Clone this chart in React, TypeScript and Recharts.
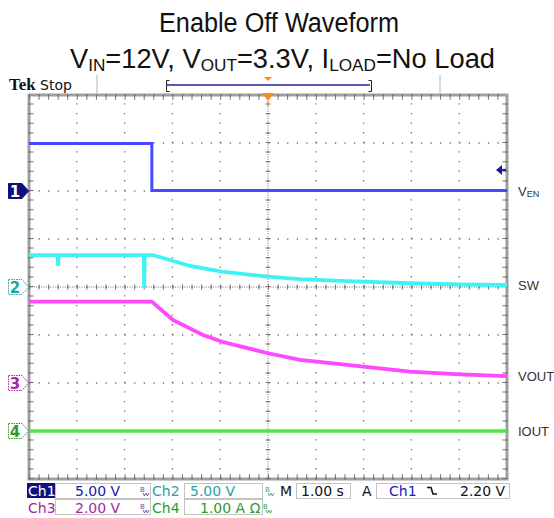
import React from 'react';
import {
  LineChart,
  Line,
  XAxis,
  YAxis,
  ReferenceLine,
  ReferenceDot,
  ReferenceArea,
} from 'recharts';

// time in s relative to trigger (1.00 s/div, 10 div)
const EN_T = [-5, -2.43, -2.43, 5];
const EN_V = [4.95, 4.95, 0.05, 0.05];

const SW_T = [-5, -4.4, -4.39, -4.38, -2.6, -2.59, -2.58, -2.41, -2.05, -1.63, -0.96, 0, 0.67, 1.51, 2.97, 4.02, 5];
const SW_V = [3.33, 3.33, 2.19, 3.33, 3.33, -0.1, 3.33, 3.33, 2.81, 2.19, 1.59, 1.07, 0.83, 0.63, 0.39, 0.26, 0.21];

const VOUT_T = [-5, -2.43, -1.99, -1.36, -0.96, 0, 0.67, 1.51, 2.97, 4.02, 5];
const VOUT_V = [3.39, 3.39, 2.63, 2.0, 1.72, 1.24, 0.96, 0.79, 0.47, 0.36, 0.29];

const IOUT_T = [-5, 5];
const IOUT_A = [0, 0];

// scope settings
const CH_NAMES = ['Ch1', 'Ch2', 'Ch3', 'Ch4'];
const CH_SCALE = [5, 5, 2, 1]; // V/div, A/div
const CH_POS = [2, 0, -2, -3]; // ground marker, div from centre
const TRACE_LABELS = ['VEN', 'SW', 'VOUT', 'IOUT'];
const TRIG_LEVEL = 2.2;

const X_TICKS = [-5, -4, -3, -2, -1, 0, 1, 2, 3, 4, 5];
const DIV_TICKS = [-4, -3, -2, -1, 0, 1, 2, 3, 4];

const TRACE_COLORS = ['#4848ff', '#40f2f2', '#ff48ff', '#48e848'];
const TRACE_WIDTHS = [3, 3.8, 3.8, 3.6];
const MARK_COLORS = ['#10107e', '#2aa3a3', '#a02ca0', '#2c9c2c'];
const GRID = '#707070';

const toRows = (t: number[], v: number[]) => t.map((x, i) => ({ t: x, v: v[i] }));
const SERIES = [toRows(EN_T, EN_V), toRows(SW_T, SW_V), toRows(VOUT_T, VOUT_V), toRows(IOUT_T, IOUT_A)];

const chDomain = (i: number): [number, number] => [(-4 - CH_POS[i]) * CH_SCALE[i], (4 - CH_POS[i]) * CH_SCALE[i]];

// label positions follow the trace end values
const LABEL_DIV = SERIES.map((s, i) => CH_POS[i] + s[s.length - 1].v / CH_SCALE[i]);

function MarkerTick(props: any) {
  const { y, payload } = props;
  const x = 29;
  const i = CH_POS.indexOf(payload.value);
  if (i < 0) return null;
  const c = MARK_COLORS[i];
  const filled = i === 0;
  const d = `M${x - 20.5} ${y - 7.5} H${x - 7} L${x - 0.5} ${y} L${x - 7} ${y + 7.5} H${x - 20.5} Z`;
  return (
    <g>
      <path d={d} fill={filled ? c : '#fff'} stroke={c} strokeWidth={1} strokeDasharray={filled ? undefined : '1.5 1'} />
      <text x={x - 14} y={y + 5.5} textAnchor="middle" fontSize={15} fontWeight="bold" fontFamily="DejaVu Sans" fill={filled ? '#fff' : c}>
        {i + 1}
      </text>
    </g>
  );
}

function LabelTick(props: any) {
  const { y, payload } = props;
  const x = 507;
  const i = LABEL_DIV.indexOf(payload.value);
  if (i < 0) return null;
  const name = TRACE_LABELS[i];
  return (
    <text x={x + 11} y={y + 5} fontSize={13} fontFamily="Liberation Sans, Arial" fill="#333">
      {i === 0 ? (
        <>
          V<tspan fontSize={9} dy={1}>EN</tspan>
        </>
      ) : (
        name
      )}
    </text>
  );
}

function BwIcon({ x, y, color }: { x: number; y: number; color: string }) {
  return (
    <g>
      <text x={x} y={y - 4} fontSize={7} fontFamily="DejaVu Sans" fill={color}>B</text>
      <path d={`M${x + 3} ${y - 3} l1.5 3 l1.5 -3 l1.5 3 l1.5 -3`} fill="none" stroke={color} strokeWidth={0.9} />
    </g>
  );
}

function Header() {
  return (
    <g>
      <text x={279} y={32} textAnchor="middle" fontSize={27} fontFamily="Liberation Sans, Arial" fill="#111" textLength={240} lengthAdjust="spacingAndGlyphs">
        Enable Off Waveform
      </text>
      <text x={70} y={68} fontSize={27} fontFamily="Liberation Sans, Arial" fill="#111" textLength={425} lengthAdjust="spacingAndGlyphs">
        V<tspan fontSize={17} dy={3}>IN</tspan>
        <tspan dy={-3}>=12V, V</tspan>
        <tspan fontSize={17} dy={3}>OUT</tspan>
        <tspan dy={-3}>=3.3V, I</tspan>
        <tspan fontSize={17} dy={3}>LOAD</tspan>
        <tspan dy={-3}>=No Load</tspan>
      </text>
      <text x={9} y={90} fontSize={17} fontWeight="bold" fontFamily="Liberation Serif, serif" fill="#111">Tek</text>
      <text x={40} y={90} fontSize={14} fontFamily="DejaVu Sans" fill="#111">Stop</text>
      <line x1={97} y1={75} x2={97} y2={93} stroke="#b4b4b4" />
      <line x1={440} y1={75} x2={440} y2={93} stroke="#b4b4b4" />
      <line x1={167} y1={85} x2={370} y2={85} stroke="#5a5ab4" strokeWidth={2} />
      <path d="M169.5 80.5 H166.5 V91.5 H169.5" fill="none" stroke="#222" />
      <path d="M368.5 80.5 H371.5 V91.5 H368.5" fill="none" stroke="#222" />
      <path d="M264 77 H272 L268 81 Z" fill="#ff8c1a" />
    </g>
  );
}

function StatusBar() {
  const f = { fontSize: 14, fontFamily: 'DejaVu Sans' };
  const box = { fill: 'none', stroke: '#c4c4c4' };
  return (
    <g>
      {/* row 1 */}
      <rect x={27} y={483} width={28} height={15} fill={MARK_COLORS[0]} />
      <text x={28} y={496} {...f} fill="#fff">{CH_NAMES[0]}</text>
      <rect x={55.5} y={483.5} width={95} height={15} {...box} />
      <text x={75} y={496} {...f} fill="#2020a8">{CH_SCALE[0].toFixed(2)} V</text>
      <BwIcon x={140} y={496} color="#6a4ab0" />
      <text x={152} y={496} {...f} fill={MARK_COLORS[1]}>{CH_NAMES[1]}</text>
      <rect x={184.5} y={483.5} width={78} height={15} {...box} />
      <text x={190} y={496} {...f} fill={MARK_COLORS[1]}>{CH_SCALE[1].toFixed(2)} V</text>
      <BwIcon x={265} y={496} color="#3aa0a0" />
      <text x={280} y={496} {...f} fill="#111">M</text>
      <rect x={296.5} y={483.5} width={54} height={15} {...box} />
      <text x={301} y={496} {...f} fill="#111">1.00 s</text>
      <text x={362} y={496} {...f} fill="#111">A</text>
      <rect x={376.5} y={483.5} width={133} height={15} {...box} />
      <text x={389} y={496} {...f} fill="#2020c0">{CH_NAMES[0]}</text>
      <path d="M427 487.5 H431 L433 494 H437" fill="none" stroke="#111" strokeWidth={1.6} />
      <text x={460} y={496} {...f} fill="#111">{TRIG_LEVEL.toFixed(2)} V</text>
      {/* row 2 */}
      <text x={28} y={513} {...f} fill={MARK_COLORS[2]}>{CH_NAMES[2]}</text>
      <rect x={55.5} y={499.5} width={95} height={15} {...box} />
      <text x={75} y={513} {...f} fill={MARK_COLORS[2]}>{CH_SCALE[2].toFixed(2)} V</text>
      <BwIcon x={140} y={513} color="#6a4ab0" />
      <text x={152} y={513} {...f} fill={MARK_COLORS[3]}>{CH_NAMES[3]}</text>
      <rect x={184.5} y={499.5} width={78} height={15} {...box} />
      <text x={200} y={513} {...f} fill={MARK_COLORS[3]}>{CH_SCALE[3].toFixed(2)} A Ω</text>
      <BwIcon x={263} y={513} color="#3aa03a" />
    </g>
  );
}

export default function App() {
  return (
    <div style={{ position: 'absolute', left: 0, top: 0, width: 554, height: 518, background: '#fff' }}>
      <svg width={554} height={518} style={{ position: 'absolute', left: 0, top: 0 }}>
        <Header />
        <StatusBar />
      </svg>
      <div style={{ position: 'absolute', left: 0, top: 0 }}>
        <LineChart width={554} height={518} margin={{ top: 95, right: 46, bottom: 39, left: 28 }}>
          <XAxis dataKey="t" type="number" domain={[-5, 5]} ticks={X_TICKS} allowDataOverflow hide />
          <YAxis yAxisId="div" type="number" domain={[-4, 4]} ticks={DIV_TICKS} allowDataOverflow hide />
          {CH_NAMES.map((n, i) => (
            <YAxis key={n} yAxisId={`ch${i}`} type="number" domain={chDomain(i)} allowDataOverflow hide />
          ))}
          <YAxis
            yAxisId="mark"
            type="number"
            domain={[-4, 4]}
            allowDataOverflow
            ticks={CH_POS}
            width={1}
            tickSize={0}
            tickMargin={0}
            axisLine={false}
            tickLine={false}
            interval={0}
            tick={<MarkerTick />}
          />
          <YAxis
            yAxisId="lbl"
            orientation="right"
            type="number"
            domain={[-4, 4]}
            allowDataOverflow
            ticks={LABEL_DIV}
            width={1}
            tickSize={0}
            tickMargin={0}
            axisLine={false}
            tickLine={false}
            interval={0}
            tick={<LabelTick />}
          />

          {/* dotted graticule */}
          {DIV_TICKS.map((d) => (
            <ReferenceLine key={`h${d}`} yAxisId="div" y={d} stroke={GRID} strokeWidth={1.3} strokeDasharray="1.3 8.26" />
          ))}
          {X_TICKS.map((t) => (
            <ReferenceLine key={`v${t}`} yAxisId="div" x={t} stroke={GRID} strokeWidth={1.3} strokeDasharray="1.3 8.3" />
          ))}
          <ReferenceLine yAxisId="div" y={0} stroke={GRID} strokeDasharray="1 1.39" />
          <ReferenceLine yAxisId="div" y={0} stroke={GRID} strokeWidth={5} strokeDasharray="1 8.56" />
          <ReferenceLine yAxisId="div" x={0} stroke={GRID} strokeDasharray="1 1.4" />
          <ReferenceLine yAxisId="div" x={0} stroke={GRID} strokeWidth={5} strokeDasharray="1 8.6" />
          {/* border minor ticks */}
          <ReferenceLine yAxisId="div" y={3.955} stroke={GRID} strokeWidth={5} strokeDasharray="1 8.56" />
          <ReferenceLine yAxisId="div" y={-3.955} stroke={GRID} strokeWidth={5} strokeDasharray="1 8.56" />
          <ReferenceLine yAxisId="div" x={-4.955} stroke={GRID} strokeWidth={5} strokeDasharray="1 8.6" />
          <ReferenceLine yAxisId="div" x={4.955} stroke={GRID} strokeWidth={5} strokeDasharray="1 8.6" />

          {SERIES.map((s, i) => (
            <Line
              key={CH_NAMES[i]}
              data={s}
              yAxisId={`ch${i}`}
              dataKey="v"
              type="linear"
              stroke={TRACE_COLORS[i]}
              strokeWidth={TRACE_WIDTHS[i]}
              dot={false}
              activeDot={false}
              isAnimationActive={false}
            />
          ))}

          <ReferenceArea yAxisId="div" x1={-5} x2={5} y1={-4} y2={4} fill="none" stroke="#a0a0a0" strokeWidth={3} ifOverflow="visible" />

          {/* trigger level */}
          <ReferenceDot
            yAxisId="ch0"
            x={5}
            y={TRIG_LEVEL}
            ifOverflow="visible"
            shape={(p: any) => (
              <g>
                <path d={`M${p.cx - 11} ${p.cy} L${p.cx - 5} ${p.cy - 5} L${p.cx - 5} ${p.cy + 5} Z`} fill="#1a1a9c" />
                <line x1={p.cx - 6} y1={p.cy} x2={p.cx - 1} y2={p.cy} stroke="#1a1a9c" strokeWidth={2} />
              </g>
            )}
          />
          {/* trigger position */}
          <ReferenceDot
            yAxisId="div"
            x={0}
            y={4}
            ifOverflow="visible"
            shape={(p: any) => (
              <g>
                <path d={`M${p.cx - 6} ${p.cy - 2} H${p.cx + 6} L${p.cx} ${p.cy + 6} Z`} fill="#ff8c1a" />
                <line x1={p.cx} y1={p.cy + 6} x2={p.cx} y2={p.cy + 11} stroke="#ff8c1a" strokeWidth={1} />
              </g>
            )}
          />
        </LineChart>
      </div>
    </div>
  );
}
